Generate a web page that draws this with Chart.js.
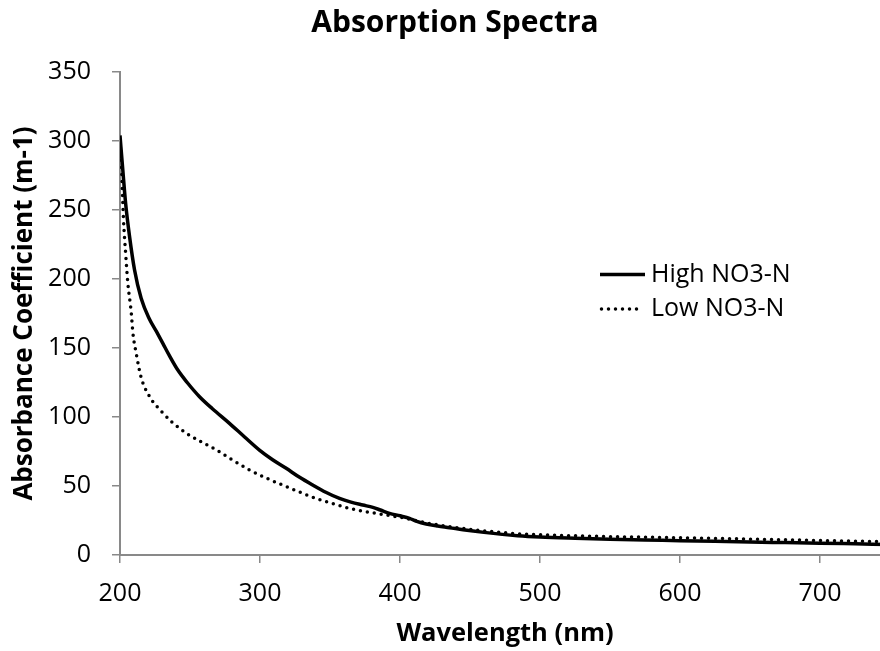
<!DOCTYPE html>
<html>
<head>
<meta charset="utf-8">
<script src="https://cdn.jsdelivr.net/npm/chart.js@4.4.1/dist/chart.umd.min.js"></script>
<style>
  html, body { margin: 0; padding: 0; background: #fff; overflow: hidden; }
  #wrap { width: 910px; height: 651px; }
</style>
</head>
<body>
<div id="wrap"><canvas id="c" width="910" height="651"></canvas></div>
<script>
const chartTitle = "Absorption Spectra";
const xTitle = "Wavelength (nm)";
const yTitle = "Absorbance Coefficient (m-1)";
const seriesNames = ["High NO3-N", "Low NO3-N"];
const xTickValues = [200, 300, 400, 500, 600, 700];

const highWl = [200, 202, 204, 206.8, 210.4, 215.1, 221, 226, 230.6, 235, 241.3, 248, 256.8, 266, 278.2, 289, 299.6, 309, 318.7, 328, 337.7, 347, 356.8, 365, 373.4, 380.6, 386, 392.5, 400, 406.8, 412, 418.7, 427, 435.4, 445, 460, 484, 500, 525, 550, 575, 600, 625, 650, 675, 700, 725, 750];
const highVal = [304, 279, 255, 231, 206.5, 186, 171, 162, 153.4, 145, 134, 125, 114.7, 106, 95.4, 85.5, 76, 69, 62.8, 56.5, 50.7, 45.5, 41, 38.3, 36.2, 34.5, 32.6, 30.2, 28.4, 26.6, 24.4, 22.5, 21, 19.8, 18.3, 16.4, 14, 13, 12.1, 11.4, 10.9, 10.4, 9.9, 9.4, 9, 8.6, 8.1, 7.6];

const lowWl = [200, 201, 201.6, 202.5, 204, 205.6, 208, 209.2, 211.6, 215, 221, 230.6, 238, 247, 258, 269, 280, 292.5, 304, 316, 328, 340, 352, 364, 373, 383, 393, 404, 414, 423, 435, 450, 465, 484, 500, 525, 550, 575, 600, 625, 650, 675, 700, 725, 750];
const lowVal = [296, 284, 267, 243, 219, 197, 176, 161, 146, 129, 115, 103, 95.5, 88.5, 82, 76, 69, 61.6, 56, 50.7, 45.7, 41, 37.2, 33.8, 31.8, 30.2, 28.5, 26.6, 24.3, 22.5, 20.6, 18.6, 17, 15.4, 14.6, 13.9, 13.3, 12.9, 12.5, 12, 11.5, 11, 10.5, 10, 9.5];

const FONT = "'Open Sans', 'DejaVu Sans', sans-serif";
const AXIS_GRAY = '#898989';

const toPts = (xs, ys) => xs.map((x, i) => ({ x: x, y: ys[i] }));

const customLegend = {
  id: 'customLegend',
  afterDraw(chart) {
    const ctx = chart.ctx;
    const items = chart.data.datasets;
    const x0 = 600, x1 = 645, textX = 651;
    const rows = [274.5, 309];
    ctx.save();
    items.forEach((ds, i) => {
      const y = rows[i];
      const dashed = ds.borderDash && ds.borderDash.length;
      ctx.beginPath();
      ctx.strokeStyle = ds.borderColor;
      ctx.lineWidth = ds.borderWidth;
      ctx.lineCap = ds.borderCapStyle || 'butt';
      ctx.setLineDash(ds.borderDash || []);
      ctx.moveTo(x0 + (dashed ? 1.5 : 0), y);
      ctx.lineTo(x1 - (dashed ? 3 : 0), y);
      ctx.stroke();
      ctx.setLineDash([]);
      ctx.fillStyle = '#000';
      ctx.font = "25px " + FONT;
      ctx.textBaseline = 'middle';
      ctx.textAlign = 'left';
      ctx.fillText(ds.label, textX, y);
    });
    ctx.restore();
  }
};

new Chart(document.getElementById('c'), {
  type: 'line',
  data: {
    datasets: [
      {
        label: seriesNames[0],
        data: toPts(highWl, highVal),
        borderColor: '#000',
        borderWidth: 3.5,
        pointRadius: 0,
        fill: false,
        cubicInterpolationMode: 'monotone'
      },
      {
        label: seriesNames[1],
        data: toPts(lowWl, lowVal),
        borderColor: '#000',
        borderWidth: 3.5,
        borderDash: [0, 7],
        borderCapStyle: 'round',
        pointRadius: 0,
        fill: false,
        cubicInterpolationMode: 'monotone'
      }
    ]
  },
  options: {
    responsive: false,
    animation: false,
    layout: { padding: { left: 0, right: 0, top: 0, bottom: 0 } },
    plugins: {
      legend: { display: false },
      tooltip: { enabled: false },
      title: {
        display: true,
        text: chartTitle,
        color: '#000',
        font: { family: FONT, size: 30, weight: 'bold', lineHeight: 1.2 },
        padding: { top: 5, bottom: 31 }
      }
    },
    scales: {
      x: {
        type: 'linear',
        min: 200,
        max: 750,
        afterBuildTicks(scale) { scale.ticks = xTickValues.map(v => ({ value: v })); },
        afterFit(scale) { scale.height = 96; },
        border: { display: true, color: AXIS_GRAY, width: 2 },
        grid: { drawOnChartArea: false, drawTicks: true, tickLength: 8, color: AXIS_GRAY, lineWidth: 1.5 },
        ticks: { color: '#000', font: { family: FONT, size: 25 }, padding: 16, maxRotation: 0, autoSkip: false },
        title: {
          display: true,
          text: xTitle,
          color: '#000',
          font: { family: FONT, size: 25.5, weight: 'bold', lineHeight: 1.2 },
          padding: { top: 4, bottom: 2 }
        }
      },
      y: {
        type: 'linear',
        min: 0,
        max: 350,
        afterFit(scale) { scale.width = 120; },
        border: { display: true, color: AXIS_GRAY, width: 2 },
        grid: { drawOnChartArea: false, drawTicks: true, tickLength: 8, color: AXIS_GRAY, lineWidth: 1.5 },
        ticks: { stepSize: 50, color: '#000', font: { family: FONT, size: 25 }, padding: 21 },
        title: {
          display: true,
          text: yTitle,
          color: '#000',
          font: { family: FONT, size: 26, weight: 'bold', lineHeight: 1.2 },
          padding: { top: 9, bottom: 0 }
        }
      },
      yRight: {
        type: 'linear',
        position: 'right',
        min: 0,
        max: 350,
        afterFit(scale) { scale.width = 20; },
        border: { display: false },
        grid: { display: false },
        ticks: { display: false }
      }
    }
  },
  plugins: [customLegend]
});
</script>
</body>
</html>
